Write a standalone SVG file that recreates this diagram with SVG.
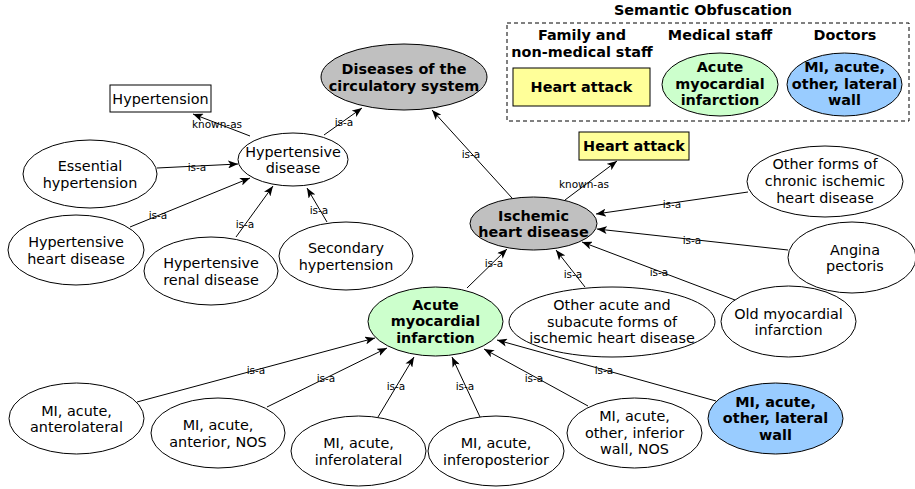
<svg xmlns="http://www.w3.org/2000/svg" width="915" height="489" viewBox="0 0 915 489">
<style>
text{font-family:"DejaVu Sans","Liberation Sans",sans-serif;font-size:14.4px;text-anchor:middle;fill:#000}
.b{font-weight:bold}
.lbl{font-size:10.5px}
.n{stroke:#000;stroke-width:1}
.w{fill:#fff}.g{fill:#c0c0c0}.y{fill:#ffff99}.gr{fill:#ccffcc}.bl{fill:#99ccff}
#edges line{stroke:#000;stroke-width:1;marker-end:url(#ah)}
</style>
<defs>
<marker id="ah" viewBox="0 0 10 8" refX="10" refY="4" markerWidth="10" markerHeight="8" markerUnits="userSpaceOnUse" orient="auto">
<path d="M0,0 L10,4 L0,8 L2.5,4 z" fill="#000"/>
</marker>
</defs>
<rect width="915" height="489" fill="#fff"/>

<g id="edges">
<line x1="250" y1="136" x2="193" y2="114"/>
<line x1="324" y1="135" x2="362" y2="108"/>
<line x1="157" y1="168" x2="238" y2="164"/>
<line x1="130" y1="227" x2="250" y2="178"/>
<line x1="236" y1="237" x2="273" y2="186"/>
<line x1="327" y1="222" x2="307" y2="188"/>
<line x1="512" y1="198" x2="432" y2="110"/>
<line x1="565" y1="200" x2="617" y2="161"/>
<line x1="748" y1="192" x2="596" y2="214"/>
<line x1="788" y1="250" x2="597" y2="229"/>
<line x1="735" y1="300" x2="582" y2="242"/>
<line x1="585" y1="287" x2="556" y2="250"/>
<line x1="467" y1="288" x2="507" y2="249"/>
<line x1="137" y1="402" x2="375" y2="338"/>
<line x1="267" y1="407" x2="387" y2="348"/>
<line x1="378" y1="417" x2="414" y2="357"/>
<line x1="480" y1="417" x2="452" y2="357"/>
<line x1="588" y1="406" x2="484" y2="349"/>
<line x1="716" y1="401" x2="497" y2="340"/>
<text class="lbl" x="217" y="128">known-as</text>
<text class="lbl" x="344" y="126">is-a</text>
<text class="lbl" x="197" y="171">is-a</text>
<text class="lbl" x="158" y="219">is-a</text>
<text class="lbl" x="245" y="228">is-a</text>
<text class="lbl" x="319" y="214">is-a</text>
<text class="lbl" x="471" y="158">is-a</text>
<text class="lbl" x="584" y="188">known-as</text>
<text class="lbl" x="672" y="208">is-a</text>
<text class="lbl" x="692" y="244">is-a</text>
<text class="lbl" x="659" y="276">is-a</text>
<text class="lbl" x="573" y="278">is-a</text>
<text class="lbl" x="494" y="267">is-a</text>
<text class="lbl" x="256" y="374">is-a</text>
<text class="lbl" x="326" y="382">is-a</text>
<text class="lbl" x="396" y="390">is-a</text>
<text class="lbl" x="465" y="390">is-a</text>
<text class="lbl" x="534" y="382">is-a</text>
<text class="lbl" x="604" y="374">is-a</text>
</g>

<g id="semantic-obfuscation">
<text class="b" x="703" y="15">Semantic Obfuscation</text>
<rect x="507" y="23" width="402" height="98" fill="none" stroke="#000" stroke-width="1" stroke-dasharray="4,3"/>
<text class="b" x="582" y="40">Family and</text>
<text class="b" x="582" y="57">non-medical staff</text>
<text class="b" x="720" y="40">Medical staff</text>
<text class="b" x="845" y="40">Doctors</text>
</g>
<g id="legend-heart-attack">
<rect class="n y" x="513" y="68" width="137" height="38"/>
<text class="b" x="581.5" y="92">Heart attack</text>
</g>
<g id="legend-ami">
<ellipse class="n gr" cx="720" cy="84.5" rx="58" ry="31.5"/>
<text class="b" x="720" y="72">Acute</text>
<text class="b" x="720" y="88.5">myocardial</text>
<text class="b" x="720" y="105">infarction</text>
</g>
<g id="legend-mi-lateral">
<ellipse class="n bl" cx="844.5" cy="84.5" rx="57.5" ry="31.5"/>
<text class="b" x="844.5" y="72">MI, acute,</text>
<text class="b" x="844.5" y="88.5">other, lateral</text>
<text class="b" x="844.5" y="105">wall</text>
</g>

<g id="hypertension">
<rect class="n w" x="110" y="85" width="101" height="27"/>
<text x="160.5" y="104">Hypertension</text>
</g>
<g id="hypertensive-disease">
<ellipse class="n w" cx="293" cy="159.5" rx="55" ry="26.5"/>
<text x="293" y="156.5">Hypertensive</text>
<text x="293" y="173">disease</text>
</g>
<g id="diseases-circulatory">
<ellipse class="n g" cx="404" cy="77" rx="83" ry="33"/>
<text class="b" x="404" y="74">Diseases of the</text>
<text class="b" x="404" y="90.5">circulatory system</text>
</g>
<g id="essential-hypertension">
<ellipse class="n w" cx="90" cy="174" rx="67" ry="34"/>
<text x="90" y="171">Essential</text>
<text x="90" y="187.5">hypertension</text>
</g>
<g id="hypertensive-heart">
<ellipse class="n w" cx="76" cy="250" rx="68" ry="35"/>
<text x="76" y="247">Hypertensive</text>
<text x="76" y="263.5">heart disease</text>
</g>
<g id="hypertensive-renal">
<ellipse class="n w" cx="211" cy="271" rx="67" ry="34"/>
<text x="211" y="268">Hypertensive</text>
<text x="211" y="284.5">renal disease</text>
</g>
<g id="secondary-hypertension">
<ellipse class="n w" cx="346" cy="256" rx="67" ry="34"/>
<text x="346" y="253">Secondary</text>
<text x="346" y="269.5">hypertension</text>
</g>
<g id="heart-attack">
<rect class="n y" x="579" y="132" width="110" height="28"/>
<text class="b" x="634" y="151">Heart attack</text>
</g>
<g id="ischemic-heart-disease">
<ellipse class="n g" cx="533.5" cy="223.5" rx="63.5" ry="26.5"/>
<text class="b" x="533.5" y="220.5">Ischemic</text>
<text class="b" x="533.5" y="237">heart disease</text>
</g>
<g id="other-chronic">
<ellipse class="n w" cx="825" cy="181.5" rx="78" ry="35.5"/>
<text x="825" y="169">Other forms of</text>
<text x="825" y="186">chronic ischemic</text>
<text x="825" y="203">heart disease</text>
</g>
<g id="angina">
<ellipse class="n w" cx="852" cy="257.5" rx="64" ry="35.5"/>
<text x="855" y="254.5">Angina</text>
<text x="855" y="271">pectoris</text>
</g>
<g id="old-mi">
<ellipse class="n w" cx="788.5" cy="321.5" rx="67.5" ry="35.5"/>
<text x="788.5" y="318.5">Old myocardial</text>
<text x="788.5" y="335">infarction</text>
</g>
<g id="other-acute">
<ellipse class="n w" cx="612" cy="322" rx="103" ry="35"/>
<text x="612" y="310">Other acute and</text>
<text x="612" y="326.5">subacute forms of</text>
<text x="612" y="343">ischemic heart disease</text>
</g>
<g id="acute-mi">
<ellipse class="n gr" cx="435.5" cy="321.5" rx="67.5" ry="34.5"/>
<text class="b" x="435.5" y="309.5">Acute</text>
<text class="b" x="435.5" y="326">myocardial</text>
<text class="b" x="435.5" y="342.5">infarction</text>
</g>
<g id="mi-anterolateral">
<ellipse class="n w" cx="76.5" cy="418.5" rx="67.5" ry="35.5"/>
<text x="76.5" y="415.5">MI, acute,</text>
<text x="76.5" y="432">anterolateral</text>
</g>
<g id="mi-anterior">
<ellipse class="n w" cx="218" cy="433" rx="67" ry="35"/>
<text x="218" y="430">MI, acute,</text>
<text x="218" y="446.5">anterior, NOS</text>
</g>
<g id="mi-inferolateral">
<ellipse class="n w" cx="358.5" cy="451" rx="67.5" ry="35"/>
<text x="358.5" y="448">MI, acute,</text>
<text x="358.5" y="464.5">inferolateral</text>
</g>
<g id="mi-inferoposterior">
<ellipse class="n w" cx="496" cy="451" rx="68" ry="35"/>
<text x="496" y="448">MI, acute,</text>
<text x="496" y="464.5">inferoposterior</text>
</g>
<g id="mi-other-inferior">
<ellipse class="n w" cx="634.5" cy="433" rx="67.5" ry="35"/>
<text x="634.5" y="421">MI, acute,</text>
<text x="634.5" y="437.5">other, inferior</text>
<text x="634.5" y="454">wall, NOS</text>
</g>
<g id="mi-other-lateral">
<ellipse class="n bl" cx="775.5" cy="418.5" rx="67.5" ry="35.5"/>
<text class="b" x="775.5" y="406.5">MI, acute,</text>
<text class="b" x="775.5" y="423">other, lateral</text>
<text class="b" x="775.5" y="439.5">wall</text>
</g>
</svg>
